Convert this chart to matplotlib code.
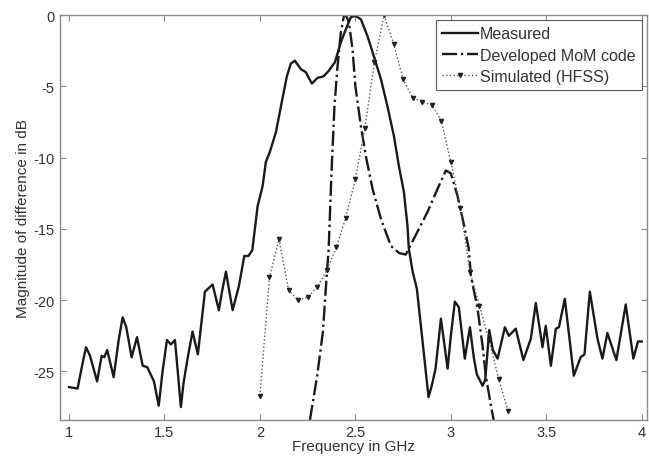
import matplotlib
matplotlib.use("Agg")
import matplotlib.pyplot as plt

plt.rcParams['font.family'] = ['Liberation Sans', 'DejaVu Sans']

# Measured
meas_f = [1.00, 1.045, 1.07, 1.089, 1.11, 1.147, 1.171, 1.185, 1.20, 1.234, 1.26, 1.281, 1.30,
          1.328, 1.356, 1.386, 1.41, 1.445, 1.47, 1.49, 1.513, 1.534, 1.555, 1.586, 1.60, 1.621,
          1.647, 1.675, 1.69, 1.712, 1.752, 1.785, 1.80, 1.822, 1.857, 1.89, 1.918, 1.94, 1.96,
          1.988, 2.014, 2.031, 2.052, 2.084, 2.11, 2.141, 2.162, 2.183, 2.215, 2.24, 2.272,
          2.302, 2.333, 2.361, 2.393, 2.424, 2.45, 2.476, 2.50, 2.529, 2.564, 2.597, 2.634,
          2.668, 2.702, 2.728, 2.754, 2.773, 2.78, 2.80, 2.822, 2.852, 2.883, 2.90, 2.92, 2.948,
          2.983, 3.00, 3.021, 3.042, 3.073, 3.10, 3.12, 3.136, 3.166, 3.18, 3.201, 3.22, 3.245,
          3.283, 3.304, 3.34, 3.38, 3.419, 3.445, 3.48, 3.497, 3.524, 3.55, 3.566, 3.597, 3.644,
          3.68, 3.70, 3.728, 3.768, 3.794, 3.82, 3.867, 3.916, 3.956, 3.98, 4.00]
meas_db = [-26.1, -26.2, -24.5, -23.3, -23.9, -25.7, -23.9, -24.0, -23.5, -25.4, -22.8, -21.2, -21.9,
           -24.0, -22.6, -24.6, -24.7, -25.7, -27.4, -25.0, -22.8, -23.1, -22.8, -27.5, -25.8, -24.1,
           -22.2, -23.8, -22.0, -19.4, -18.9, -20.7, -19.5, -18.0, -20.7, -19.0, -16.9, -16.9, -16.5,
           -13.4, -12.0, -10.3, -9.6, -8.2, -6.4, -4.3, -3.4, -3.2, -3.8, -4.0, -4.8,
           -4.4, -4.3, -3.9, -3.3, -1.9, -1.0, -0.15, -0.05, -0.3, -1.5, -2.9, -4.5,
           -6.4, -8.5, -10.6, -12.4, -14.8, -16.4, -18.0, -19.2, -22.9, -26.8, -26.0, -24.8, -21.3,
           -24.8, -22.5, -20.1, -20.5, -24.1, -21.9, -24.0, -25.2, -26.0, -25.6, -22.1, -23.5, -24.1,
           -21.9, -22.5, -22.0, -24.2, -22.7, -20.2, -23.3, -21.8, -24.6, -22.0, -21.9, -19.9, -25.3,
           -24.0, -23.8, -19.4, -22.7, -24.1, -22.3, -24.2, -20.3, -24.1, -22.9, -22.9]

# Developed MoM code
mom_f = [2.262, 2.30, 2.33, 2.345, 2.36, 2.375, 2.39, 2.405, 2.424, 2.44, 2.45, 2.466, 2.485,
         2.50, 2.529, 2.555, 2.59, 2.634, 2.686, 2.73, 2.764, 2.806, 2.878, 2.93, 2.974, 3.0,
         3.035, 3.07, 3.094, 3.105, 3.14, 3.166, 3.183, 3.21, 3.224]
mom_db = [-28.4, -25.3, -22.2, -19.2, -16.4, -11.0, -6.5, -3.8, -1.2, -0.05, 0.0, -0.5, -2.4,
          -5.0, -7.8, -9.9, -12.2, -14.3, -16.2, -16.7, -16.8, -15.7, -13.8, -12.2, -10.9, -11.1,
          -12.7, -14.8, -16.4, -18.3, -20.6, -23.2, -25.3, -27.4, -28.4]

# Simulated (HFSS)
hfss_f = [2.00, 2.05, 2.10, 2.15, 2.20, 2.25, 2.30, 2.35, 2.40, 2.45, 2.50, 2.55, 2.60, 2.65,
          2.70, 2.75, 2.80, 2.85, 2.90, 2.95, 3.00, 3.05, 3.10, 3.15, 3.20, 3.25, 3.30]
hfss_db = [-26.7, -18.4, -15.7, -19.3, -20.0, -19.8, -19.1, -17.9, -16.3, -14.2, -11.5, -7.9, -3.3, 0.0,
           -2.0, -4.5, -5.8, -6.1, -6.3, -7.4, -10.3, -13.5, -18.0, -20.4, -22.8, -25.5, -27.8]

xticks = [1, 1.5, 2, 2.5, 3, 3.5, 4]
xticklabels = ['1', '1.5', '2', '2.5', '3', '3.5', '4']
yticks = [0, -5, -10, -15, -20, -25]
yticklabels = ['0', '-5', '-10', '-15', '-20', '-25']

fig = plt.figure(figsize=(6.49, 4.60), dpi=100)
ax = fig.add_axes([0.0925, 0.085, 0.904, 0.88])

ax.plot(meas_f, meas_db, color='#1a1a1a', lw=1.7, ls='-', label='Measured')
ax.plot(mom_f, mom_db, color='#1a1a1a', lw=1.7, ls='-.', label='Developed MoM code')
ax.plot(hfss_f, hfss_db, color='#555555', lw=1.0, ls=':', marker='v', ms=3,
        markerfacecolor='#222222', markeredgecolor='#222222', label='Simulated (HFSS)')

ax.set_xlim(0.953, 4.026)
ax.set_ylim(-28.4, 0)
ax.set_xticks(xticks)
ax.set_xticklabels(xticklabels)
ax.set_yticks(yticks)
ax.set_yticklabels(yticklabels)

for s in ax.spines.values():
    s.set_color('#8a8a8a')
    s.set_linewidth(1.0)
ax.tick_params(direction='in', length=4, width=0.8, color='#8a8a8a',
               top=True, right=True, labelsize=10.5, labelcolor='#333333', pad=4)

ax.set_xlabel('Frequency in GHz', fontsize=11, color='#333333', labelpad=0)
ax.set_ylabel('Magnitude of difference in dB', fontsize=11, color='#333333', labelpad=2)

leg = ax.legend(loc='upper right', fontsize=11.5, frameon=True, fancybox=False,
                borderaxespad=0.3, handlelength=2.2, handletextpad=0.15,
                labelspacing=0.4, borderpad=0.4)
leg.get_frame().set_edgecolor('#333333')
leg.get_frame().set_linewidth(0.8)
for t in leg.get_texts():
    t.set_color('#333333')

fig.savefig('out.png', dpi=100)
